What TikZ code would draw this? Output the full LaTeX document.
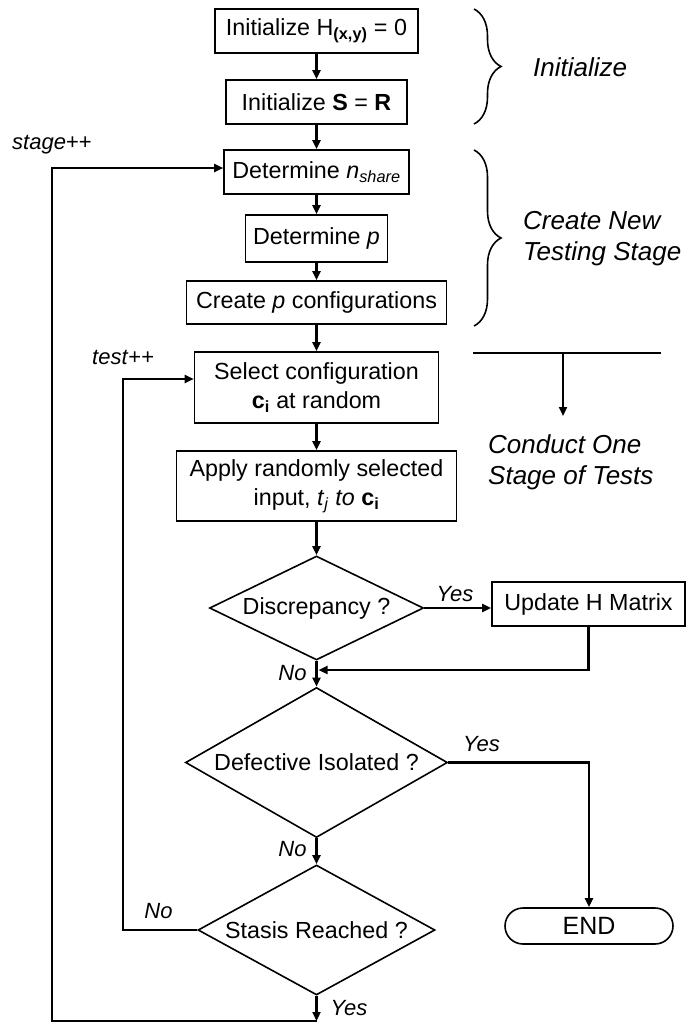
\documentclass[tikz,border=0pt]{standalone}
\usepackage{fontspec}
\setmainfont{Liberation Sans}
\usetikzlibrary{arrows.meta,shapes.geometric,shapes.misc,decorations.pathreplacing}
\newcommand\mainfs{\fontsize{23.3pt}{29pt}\selectfont}
\newcommand\lblfs{\fontsize{22pt}{26pt}\selectfont}
\newcommand\sidefs{\fontsize{26pt}{31pt}\selectfont\itshape}
\newcommand\finfs{\fontsize{25pt}{30pt}\selectfont}
\begin{document}
\begin{tikzpicture}[x=1pt,y=-1pt,
  box/.style={draw,line width=1.6pt,inner sep=0pt,align=center,font=\mainfs},
  dec/.style={draw,diamond,line width=1.6pt,inner sep=0pt,font=\mainfs},
  arr/.style={line width=2.2pt,-{Triangle[length=9pt,width=8pt]}},
  loopline/.style={line width=1.8pt},
  lbl/.style={font=\lblfs,inner sep=0pt},
  side/.style={font=\sidefs,inner sep=0pt,align=left},
  brc/.style={line width=1.6pt,decorate,decoration={brace,amplitude=27pt}}
]
\useasboundingbox (0,0) rectangle (686,1023);

% main column
\node[box,minimum width=203pt,minimum height=44pt] (b1) at (316.5,31) {Initialize H\textsubscript{\textbf{(x,y)}} = 0};
\node[box,minimum width=181pt,minimum height=44pt] (b2) at (316.5,102) {Initialize \textbf{S} = \textbf{R}};
\node[box,minimum width=185pt,minimum height=44pt] (b3) at (316.5,172) {Determine \textit{n}\textsubscript{\textit{share}}};
\node[box,minimum width=142pt,minimum height=47pt] (b4) at (316.5,238.5) {Determine \textit{p}};
\node[box,minimum width=260pt,minimum height=43pt] (b5) at (316.5,302.5) {Create \textit{p} configurations};
\node[box,minimum width=244pt,minimum height=71pt] (b6) at (316.5,387.5) {Select configuration\\ \textbf{c}\textsubscript{\textbf{i}} at random};
\node[box,minimum width=280pt,minimum height=70pt] (b7) at (316.5,486) {Apply randomly selected\\ input, \textit{t}\textsubscript{\textit{j}} \textit{to} \textbf{c}\textsubscript{\textbf{i}}};
\node[dec,aspect=2.06,minimum width=214pt,minimum height=104pt] (d1) at (316.5,608) {Discrepancy ?};
\node[box,minimum width=193pt,minimum height=44pt] (upd) at (588.5,604) {Update H Matrix};
\node[dec,aspect=1.75,minimum width=262pt,minimum height=150pt] (d2) at (316.5,762.5) {Defective Isolated ?};
\node[dec,aspect=1.82,minimum width=237pt,minimum height=130pt] (d3) at (316.5,930) {Stasis Reached ?};
\node[draw,rounded rectangle,line width=1.6pt,minimum width=168pt,minimum height=36pt,inner sep=0pt,font=\finfs] (end) at (589,926) {END};

% coordinates
\coordinate (m) at (318.5,670);
\coordinate (bot) at (316.5,1021);
\coordinate (sl1) at (52,1021);
\coordinate (sl2) at (52,168);
\coordinate (tl) at (123,379);
\coordinate (cl) at (473,353);
\coordinate (cr) at (661,353);
\coordinate (ct) at (563,353);
\coordinate (cb) at (563,416);

% connectors
\draw[arr] (b1.south) -- (b2.north);
\draw[arr] (b2.south) -- (b3.north);
\draw[arr] (b3.south) -- (b4.north);
\draw[arr] (b4.south) -- (b5.north);
\draw[arr] (b5.south) -- (b6.north);
\draw[arr] (b6.south) -- (b7.north);
\draw[arr] (b7.south) -- (d1.north);
\draw[arr] (d1.east) -- (d1.east -| upd.west);
\draw[arr] (d1.south) -- (d2.north);
\draw[arr] (upd.south) |- (m);
\draw[arr] (d2.south) -- (d3.north);
\draw[arr] (d2.east) -| (end.north);
\draw[arr] (d3.south) -- (bot);
\draw[loopline,-{Triangle[length=9pt,width=8pt]}] (bot) -- (sl1) -- (sl2) -- (sl2 -| b3.west);
\draw[loopline,-{Triangle[length=9pt,width=8pt]}] (d3.west) -| (tl) -- (tl -| b6.west);
\draw[loopline] (cl) -- (cr);
\draw[arr] (ct) -- (cb);

% braces
\draw[brc] (474,9) -- (474,124);
\draw[brc] (474,150) -- (474,326);

% labels
\node[lbl,anchor=west] (stg) at (12,145) {\textit{stage}++};
\node[lbl,anchor=west] (tst) at (92,357) {\textit{test}++};
\node[lbl] (y1) at (455,594) {\textit{Yes}};
\node[lbl] (n1) at (292.5,673) {\textit{No}};
\node[lbl] (y2) at (481.5,744) {\textit{Yes}};
\node[lbl] (n2) at (292.5,849) {\textit{No}};
\node[lbl] (n3) at (158.5,911) {\textit{No}};
\node[lbl] (y3) at (349,1008) {\textit{Yes}};

\node[side,anchor=west] (si) at (533,67) {Initialize};
\node[side,anchor=west] (sc) at (523,239) {Create New\\Testing Stage};
\node[side,anchor=west] (so) at (488,462) {Conduct One\\Stage of Tests};
\end{tikzpicture}
\end{document}
